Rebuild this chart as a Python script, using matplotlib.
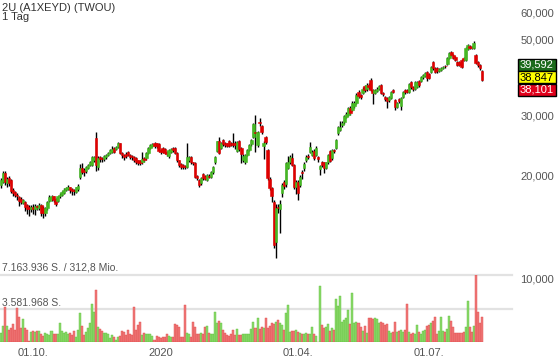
import numpy as np
import pandas as pd
import matplotlib
matplotlib.use('Agg')
import matplotlib.pyplot as plt
from matplotlib.patches import Rectangle
from matplotlib.ticker import NullLocator

plt.rcParams['font.family'] = ['Liberation Sans', 'DejaVu Sans']

# daily candles, 2U (TWOU), price in EUR
opens = [18.8, 19.2, 20.4, 19.0, 19.7, 19.4, 18.2, 17.9, 17.6, 17.3,
         17.1, 16.7, 16.8, 16.4, 16.2, 16.0, 16.2, 16.0, 16.3, 16.1,
         16.4, 16.1, 15.6, 16.1, 16.9, 17.1, 17.4, 17.1, 16.9, 17.4,
         17.6, 17.8, 18.2, 18.3, 18.5, 18.3, 18.2, 17.9, 18.3, 19.9,
         21.1, 20.8, 20.7, 21.1, 21.5, 21.5, 22.2, 25.8, 21.2, 22.7,
         22.5, 22.4, 22.7, 23.0, 23.3, 23.5, 24.1, 23.9, 24.3, 24.9,
         23.3, 23.0, 23.2, 23.5, 23.0, 22.8, 22.7, 22.5, 22.2, 22.1,
         21.9, 22.5, 22.5, 23.3, 24.1, 24.4, 24.9, 24.9, 24.7, 23.8,
         24.1, 23.9, 23.5, 22.8, 23.5, 24.1, 24.1, 23.3, 22.2, 21.6,
         21.5, 21.3, 21.2, 22.2, 22.7, 21.9, 21.8, 20.0, 19.4, 19.0,
         20.3, 20.0, 19.4, 20.0, 19.9, 20.5, 21.9, 23.6, 25.2, 24.1,
         25.4, 24.9, 24.9, 25.2, 24.9, 24.9, 24.9, 23.6, 25.2, 24.1,
         22.2, 21.9, 23.0, 23.8, 24.7, 25.9, 26.8, 24.6, 28.7, 27.9,
         24.4, 25.9, 23.8, 19.6, 18.4, 16.8, 12.8, 16.2, 16.0, 17.8,
         19.2, 18.9, 21.1, 21.9, 22.5, 21.5, 18.5, 19.2, 18.8, 20.5,
         21.1, 22.2, 22.8, 23.5, 23.0, 23.6, 23.0, 22.7, 20.9, 21.9,
         21.9, 21.1, 21.9, 23.6, 22.5, 23.8, 24.1, 26.6, 27.2, 28.1,
         28.7, 29.7, 30.1, 31.5, 31.1, 31.9, 32.6, 35.1, 34.4, 34.9,
         36.5, 35.8, 36.9, 38.0, 35.6, 34.9, 35.4, 35.8, 36.8, 34.9,
         33.9, 33.7, 33.2, 33.7, 35.6, 33.2, 31.8, 33.5, 31.9, 33.9,
         35.6, 35.6, 35.1, 37.5, 36.3, 35.8, 36.3, 37.8, 37.8, 38.8,
         39.2, 40.1, 39.6, 40.1, 42.9, 41.2, 41.2, 40.4, 40.7, 41.2,
         41.8, 42.4, 44.1, 45.9, 45.0, 44.4, 42.9, 42.9, 43.5, 44.1,
         43.5, 46.8, 47.8, 47.6, 47.2, 45.0, 42.9, 42.1, 40.4]
closes = [19.4, 20.4, 19.2, 19.6, 19.0, 18.0, 17.8, 17.6, 17.4, 16.9,
          16.8, 17.0, 16.2, 16.0, 16.0, 16.2, 16.0, 16.3, 16.2, 16.4,
          15.6, 15.6, 16.1, 16.8, 17.3, 17.4, 17.0, 16.6, 17.4, 17.6,
          17.9, 18.2, 18.4, 18.5, 18.2, 18.0, 18.0, 18.5, 18.7, 21.1,
          20.5, 20.5, 21.2, 21.5, 21.9, 22.7, 22.7, 21.5, 22.5, 22.4,
          22.4, 22.8, 23.0, 23.3, 23.8, 23.9, 23.5, 24.3, 24.9, 23.3,
          23.0, 22.7, 22.8, 23.0, 22.7, 22.7, 22.2, 21.9, 21.8, 21.8,
          22.4, 22.2, 23.3, 24.1, 24.6, 24.7, 24.4, 24.4, 23.6, 23.5,
          23.5, 23.3, 23.2, 23.8, 23.9, 23.8, 23.3, 22.2, 21.5, 21.2,
          21.2, 21.2, 22.7, 22.7, 21.9, 21.8, 19.9, 19.7, 18.8, 19.7,
          19.7, 19.6, 20.1, 19.9, 20.5, 21.2, 22.7, 25.2, 23.3, 24.9,
          24.7, 24.6, 24.4, 24.4, 24.6, 24.6, 24.6, 25.1, 23.9, 23.2,
          22.9, 23.0, 23.8, 24.6, 25.4, 28.3, 26.6, 26.8, 28.5, 26.8,
          24.9, 25.1, 19.7, 18.4, 17.5, 12.6, 16.1, 16.1, 16.6, 18.8,
          18.7, 21.8, 21.9, 22.7, 21.5, 18.5, 19.2, 17.8, 19.9, 20.4,
          21.6, 22.7, 22.7, 24.3, 23.5, 22.5, 24.1, 22.4, 21.3, 21.5,
          21.1, 21.9, 23.0, 22.1, 23.8, 23.6, 25.4, 27.8, 27.8, 28.5,
          29.9, 30.3, 31.5, 30.5, 32.6, 32.6, 34.4, 34.2, 33.9, 35.8,
          35.6, 36.8, 36.3, 35.6, 34.9, 35.6, 35.9, 36.5, 34.9, 34.6,
          33.5, 33.0, 33.9, 35.1, 35.1, 31.7, 32.6, 33.0, 33.7, 35.1,
          35.1, 35.1, 37.0, 36.3, 35.8, 37.5, 37.5, 36.8, 38.8, 39.3,
          39.8, 38.5, 38.5, 41.5, 41.2, 40.1, 40.4, 40.9, 41.2, 41.5,
          41.7, 44.1, 45.6, 45.0, 44.1, 43.5, 42.1, 42.1, 41.5, 43.5,
          47.1, 48.1, 47.2, 47.3, 48.8, 42.6, 42.1, 41.2, 38.1]
highs = [19.7, 20.6, 20.6, 19.9, 20.0, 19.6, 18.4, 18.1, 17.8, 17.4,
         17.3, 17.1, 16.9, 16.6, 16.4, 16.4, 16.6, 16.5, 16.4, 16.7,
         16.6, 16.3, 16.2, 16.9, 17.6, 17.6, 17.5, 17.2, 17.5, 17.8,
         18.1, 18.4, 18.6, 18.8, 18.6, 18.4, 18.3, 18.6, 18.9, 21.7,
         21.8, 21.0, 21.4, 21.7, 22.1, 22.9, 22.9, 26.9, 22.8, 22.9,
         22.7, 23.0, 23.2, 23.5, 24.0, 24.5, 24.3, 24.5, 25.1, 25.0,
         23.5, 23.1, 23.4, 23.6, 23.1, 23.0, 22.8, 22.7, 22.3, 22.2,
         23.4, 22.7, 23.4, 24.2, 24.8, 25.0, 25.1, 25.0, 24.9, 24.0,
         24.3, 24.1, 23.6, 23.9, 24.1, 24.2, 24.2, 23.4, 22.3, 21.8,
         21.6, 21.5, 24.9, 22.9, 22.8, 22.0, 21.9, 20.1, 19.6, 19.9,
         20.4, 20.1, 20.2, 20.2, 20.6, 21.3, 22.8, 25.3, 25.9, 25.1,
         25.6, 25.1, 25.0, 25.4, 25.1, 26.6, 25.2, 25.3, 25.4, 24.2,
         23.1, 23.2, 24.0, 24.7, 25.6, 28.5, 30.1, 27.0, 29.5, 28.2,
         25.2, 26.2, 24.0, 19.8, 18.6, 17.0, 16.6, 16.6, 17.0, 19.1,
         19.4, 22.0, 22.9, 23.0, 23.3, 21.7, 19.4, 19.4, 20.1, 20.8,
         21.9, 23.0, 23.1, 25.1, 23.7, 24.0, 24.4, 22.9, 21.5, 22.1,
         22.0, 22.0, 23.2, 23.8, 24.0, 24.0, 25.6, 28.0, 28.9, 28.8,
         30.1, 30.6, 31.8, 31.9, 33.0, 33.0, 34.8, 35.5, 34.7, 36.4,
         36.9, 37.2, 37.3, 38.5, 35.8, 35.9, 36.2, 36.8, 37.0, 35.1,
         34.2, 33.9, 34.2, 35.4, 35.9, 33.4, 32.9, 33.8, 34.0, 35.4,
         35.9, 35.9, 37.3, 37.8, 36.6, 37.8, 37.8, 38.1, 39.1, 39.7,
         40.1, 40.4, 39.9, 41.8, 43.3, 41.5, 41.5, 41.2, 41.5, 41.9,
         42.2, 44.4, 46.0, 46.3, 45.3, 44.7, 43.3, 43.2, 43.8, 44.4,
         47.4, 48.5, 48.1, 47.9, 49.4, 45.3, 43.2, 42.4, 40.7]
lows = [18.4, 19.0, 18.8, 18.6, 18.7, 17.8, 17.5, 17.3, 17.0, 16.3,
        16.5, 16.5, 15.8, 15.5, 15.3, 15.7, 15.5, 15.4, 15.9, 15.9,
        15.3, 15.1, 15.3, 15.9, 16.8, 16.9, 16.8, 16.3, 16.8, 17.2,
        17.5, 17.7, 18.0, 18.2, 17.8, 17.6, 17.6, 17.8, 18.1, 19.6,
        20.2, 20.0, 20.4, 20.9, 21.3, 21.3, 22.0, 20.6, 20.8, 21.9,
        22.0, 22.1, 22.4, 22.8, 23.1, 23.3, 23.3, 23.7, 24.1, 23.1,
        22.6, 22.3, 22.6, 22.8, 22.4, 22.3, 22.0, 21.7, 21.5, 21.5,
        21.7, 21.9, 22.3, 23.1, 23.9, 24.2, 24.1, 24.1, 23.4, 23.2,
        23.3, 23.1, 22.9, 22.6, 23.3, 23.5, 23.1, 22.0, 21.2, 20.9,
        20.9, 20.9, 21.0, 22.0, 21.7, 21.5, 19.7, 19.4, 18.6, 18.8,
        19.5, 19.4, 19.3, 19.7, 19.7, 20.3, 21.7, 23.5, 23.1, 23.9,
        24.5, 24.3, 24.2, 24.2, 24.4, 24.3, 24.0, 23.5, 23.6, 21.8,
        21.9, 21.7, 22.8, 23.6, 24.5, 25.7, 23.5, 24.3, 28.0, 26.5,
        22.4, 24.8, 19.4, 18.2, 16.8, 12.3, 11.5, 15.6, 13.6, 17.3,
        18.3, 18.6, 20.9, 21.6, 21.3, 18.3, 17.7, 17.0, 18.5, 19.6,
        20.6, 22.0, 22.4, 23.3, 22.8, 22.3, 22.8, 22.0, 20.1, 21.2,
        20.4, 20.9, 21.7, 21.9, 22.3, 23.3, 23.9, 26.3, 27.0, 27.8,
        28.4, 29.4, 29.8, 30.1, 30.8, 31.6, 32.3, 33.8, 33.4, 34.6,
        35.2, 35.4, 35.9, 35.3, 32.3, 34.6, 35.1, 35.5, 34.6, 34.2,
        33.1, 31.5, 32.9, 33.4, 34.8, 31.0, 31.5, 32.7, 31.1, 33.6,
        34.7, 34.8, 34.8, 35.9, 35.4, 35.5, 36.0, 36.4, 37.5, 38.4,
        38.9, 37.8, 38.2, 39.8, 40.8, 39.8, 39.9, 40.1, 40.3, 40.9,
        41.3, 42.1, 43.8, 44.6, 43.8, 43.1, 41.8, 41.7, 41.2, 43.2,
        43.2, 46.5, 46.8, 46.9, 46.9, 42.3, 41.6, 40.8, 37.9]
# volume in million shares
volumes = [1.0, 1.71, 3.78, 1.71, 1.28, 1.5, 1.93, 1.28, 3.67, 2.71,
           1.46, 2.43, 1.46, 1.28, 0.1, 1.1, 1.18, 1.1, 1.21, 1.18,
           0.9, 0.64, 0.93, 0.86, 0.75, 1.21, 0.86, 0.86, 0.86, 2.07,
           1.21, 1.0, 1.1, 0.86, 1.0, 0.75, 1.21, 0.57, 1.28, 3.14,
           1.71, 0.75, 1.1, 1.46, 2.07, 4.07, 3.25, 5.6, 1.64, 1.4,
           1.21, 0.93, 0.93, 0.86, 0.39, 0.75, 0.5, 0.21, 0.5, 0.64,
           1.21, 1.1, 0.75, 1.28, 0.9, 0.75, 3.7, 1.28, 1.82, 2.18,
           0.75, 1.0, 0.86, 0.86, 0.86, 0.6, 0.21, 0.64, 0.5, 0.39,
           0.5, 0.5, 0.86, 0.64, 0.57, 0.57, 1.93, 1.8, 1.64, 0.57,
           0.57, 4.0, 1.0, 0.86, 0.57, 2.18, 1.6, 0.86, 0.86, 0.93,
           0.86, 1.64, 1.71, 1.0, 0.86, 0.86, 3.17, 2.0, 2.2, 2.0,
           1.28, 1.0, 0.75, 0.64, 0.9, 1.28, 0.75, 1.36, 0.75, 0.75,
           0.86, 0.86, 0.9, 0.86, 1.36, 2.18, 1.46, 2.53, 1.36, 1.6,
           1.46, 2.53, 1.46, 1.71, 2.0, 1.93, 2.18, 2.35, 2.0, 1.82,
           1.28, 3.07, 4.0, 1.1, 1.21, 1.21, 1.28, 1.1, 0.93, 0.86,
           0.86, 0.93, 0.9, 0.86, 1.64, 0.86, 0.64, 0.05, 6.0, 1.82,
           1.46, 1.64, 1.93, 1.21, 1.46, 1.28, 4.6, 3.85, 4.9, 2.18,
           2.35, 2.53, 3.42, 1.93, 5.2, 2.07, 2.1, 2.0, 1.64, 1.21,
           1.71, 0.93, 2.53, 2.53, 2.5, 2.53, 2.43, 2.0, 2.18, 2.07,
           1.82, 1.93, 1.21, 0.93, 1.1, 2.18, 1.1, 1.2, 1.28, 1.1,
           1.28, 4.1, 1.1, 0.86, 1.0, 0.86, 1.82, 1.1, 0.86, 1.21,
           1.28, 1.71, 1.82, 2.0, 2.25, 2.64, 0.86, 1.21, 2.71, 1.21,
           1.1, 1.36, 2.78, 2.25, 1.64, 0.93, 0.93, 1.0, 1.0, 1.1,
           1.64, 4.4, 1.64, 1.1, 1.71, 7.164, 3.25, 2.07, 2.64]

start_date = '2019-09-09'
tick_dates = ['2019-10-01', '2019-12-27', '2020-04-01', '2020-07-01']
tick_labels = ['01.10.', '2020', '01.04.', '01.07.']
price_ticks = [10, 20, 30, 50, 60]
quote_texts = ['39,592', '38,847', '38,101']
quote_colors = ['#1c6b1c', '#ffff00', '#e0001b']
quote_text_colors = ['white', 'black', 'white']
vol_max = 7.163936

W, H = 560, 363
fig = plt.figure(figsize=(W / 100, H / 100), dpi=100)

# price panel (log scale, reaches down into the volume area)
ax = fig.add_axes([0, 21 / H, 512 / W, 342 / H])
ax.set_yscale('log')
ax.set_ylim(6.55, 65.1)
ax.set_xlim(-0.5, 253)

x = np.arange(len(closes))
o = np.array(opens)
c = np.array(closes)
up = c >= o
cols = np.where(up, '#45b823', '#e00000')

ax.vlines(x, lows, highs, color='black', lw=1.0, zorder=2)
ax.bar(x, np.abs(c - o), bottom=np.minimum(o, c), width=1.15,
       color=cols, edgecolor=cols, lw=0.4, zorder=3)

for s in ax.spines.values():
    s.set_visible(False)
ax.yaxis.tick_right()
ax.set_yticks(price_ticks)
ax.set_yticklabels([f'{v:.3f}'.replace('.', ',') for v in price_ticks])
ax.yaxis.set_minor_locator(NullLocator())
ax.tick_params(axis='y', length=0, pad=6, labelsize=8, labelcolor='#555555')

dates = pd.bdate_range(start_date, periods=len(closes))
tick_pos = dates.get_indexer(pd.to_datetime(tick_dates))
ax.set_xticks(tick_pos)
ax.set_xticklabels(tick_labels)
ax.tick_params(axis='x', length=0, pad=4, labelsize=8, labelcolor='#555555')

# volume panel
ax_v = fig.add_axes([0, 21 / H, 512 / W, 67 / H])
ax_v.set_xlim(ax.get_xlim())
ax_v.set_ylim(0, vol_max)
ax_v.patch.set_alpha(0)
ax_v.axis('off')
vcols = np.where(up, '#8dda6c', '#f07a7a')
vedge = np.where(up, '#5cc03a', '#e04848')
ax_v.bar(x, volumes, width=1.0, color=vcols, edgecolor=vedge, lw=0.3, zorder=2)
ax_v.axhline(vol_max, color='#e2e2e2', lw=1.6, zorder=0, clip_on=False)
ax_v.axhline(vol_max / 2, color='#e2e2e2', lw=1.6, zorder=0, clip_on=False)

fig.text(2 / W, 1 - 268 / H, '7.163.936 S. / 312,8 Mio.', fontsize=7.5,
         color='#555555', va='center', ha='left')
fig.text(2 / W, 1 - 303 / H, '3.581.968 S.', fontsize=7.5,
         color='#555555', va='center', ha='left')

# header
fig.text(2 / W, 1 - 8 / H, '2U (A1XEYD) (TWOU)', fontsize=8, color='#333333',
         va='center', ha='left')
fig.text(2 / W, 1 - 17 / H, '1 Tag', fontsize=8, color='#333333',
         va='center', ha='left')

# last quote boxes
box_top = [59, 71.5, 84]
for t, fc, tc, top in zip(quote_texts, quote_colors, quote_text_colors, box_top):
    fig.patches.append(Rectangle((518 / W, 1 - (top + 11.5) / H), 38 / W, 11.5 / H,
                                 transform=fig.transFigure, facecolor=fc,
                                 edgecolor='black', lw=1))
    fig.text(537 / W, 1 - (top + 5.9) / H, t, fontsize=8, color=tc,
             va='center', ha='center')

fig.savefig('out.png', dpi=100)
